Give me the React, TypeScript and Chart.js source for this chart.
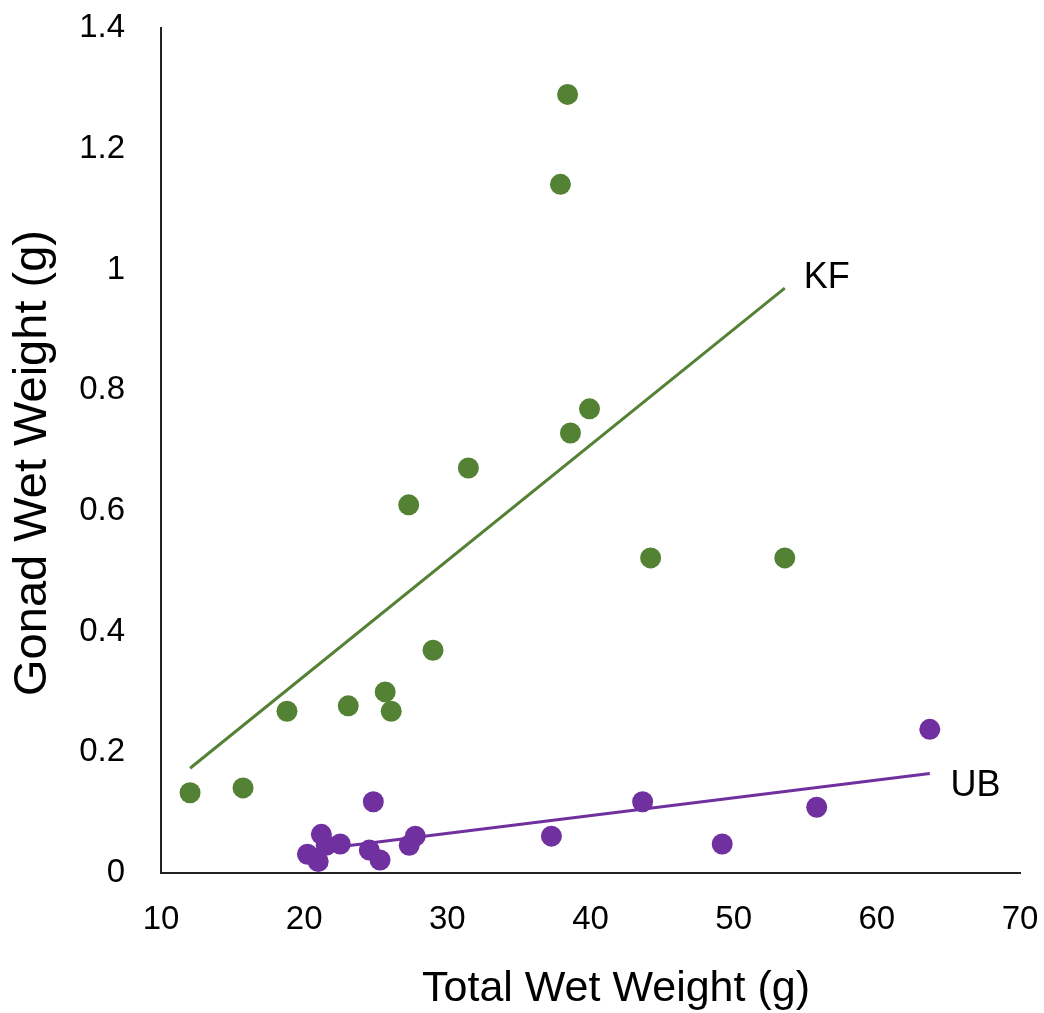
import React, { useEffect, useRef } from "react";
import { Chart, registerables } from "chart.js";

Chart.register(...registerables);

// KF (green) observations
const kfX = [12.03, 15.73, 18.8, 23.08, 25.66, 26.08, 27.3, 29.0, 31.47, 37.9, 38.4, 38.6, 39.93, 44.2, 53.57];
const kfY = [0.133, 0.141, 0.268, 0.277, 0.3, 0.268, 0.61, 0.369, 0.671, 1.141, 1.29, 0.729, 0.769, 0.522, 0.522];

// UB (purple) observations
const ubX = [24.83, 21.2, 20.23, 20.98, 21.54, 22.52, 24.55, 25.3, 27.76, 27.34, 37.27, 43.64, 49.2, 55.8, 63.7];
const ubY = [0.118, 0.064, 0.031, 0.019, 0.046, 0.048, 0.038, 0.0215, 0.061, 0.046, 0.061, 0.118, 0.048, 0.109, 0.238];

// Linear trendlines (end points)
const kfTrendX = [12.03, 53.57];
const kfTrendY = [0.1735, 0.969];
const ubTrendX = [20.23, 63.7];
const ubTrendY = [0.037, 0.165];

// Series labels, placed in data coordinates
const seriesLabels = ["KF", "UB"];
const labelX = [56.5, 66.9];
const labelY = [0.986, 0.144];

// Axis ticks
const xTicks = [10, 20, 30, 40, 50, 60, 70];
const yTicks = [0, 0.2, 0.4, 0.6, 0.8, 1, 1.2, 1.4];

const xTitle = "Total Wet Weight (g)";
const yTitle = "Gonad Wet Weight (g)";

const GREEN = "#548235";
const PURPLE = "#7030A0";
const FONT = "'Liberation Sans', Arial, sans-serif";

const zip = (xs: number[], ys: number[]) => xs.map((x, i) => ({ x, y: ys[i] }));

const annotationPlugin = {
  id: "textAnnotations",
  afterDraw(chart: any) {
    const { ctx, scales } = chart;
    ctx.save();
    ctx.fillStyle = "#000";
    ctx.textAlign = "center";
    ctx.textBaseline = "middle";
    ctx.font = `36px ${FONT}`;
    seriesLabels.forEach((t, i) => {
      ctx.fillText(t, scales.x.getPixelForValue(labelX[i]), scales.y.getPixelForValue(labelY[i]));
    });
    ctx.font = `43px ${FONT}`;
    ctx.fillText(xTitle, 616, 989);
    ctx.translate(33, 463);
    ctx.rotate(-Math.PI / 2);
    ctx.font = `47px ${FONT}`;
    ctx.fillText(yTitle, 0, 0);
    ctx.restore();
  },
};

const zeroPad = (s: any) => {
  s.paddingTop = 0;
  s.paddingBottom = 0;
  s.paddingLeft = 0;
  s.paddingRight = 0;
};

export default function App() {
  const ref = useRef<HTMLCanvasElement | null>(null);
  useEffect(() => {
    if (!ref.current) return;
    const chart = new Chart(ref.current, {
      type: "scatter",
      data: {
        datasets: [
          {
            label: "KF",
            data: zip(kfX, kfY),
            backgroundColor: GREEN,
            borderColor: GREEN,
            pointRadius: 10.5,
            pointBorderWidth: 0,
            pointHoverRadius: 10.5,
          },
          {
            label: "UB",
            data: zip(ubX, ubY),
            backgroundColor: PURPLE,
            borderColor: PURPLE,
            pointRadius: 10.5,
            pointBorderWidth: 0,
            pointHoverRadius: 10.5,
          },
          {
            label: "KF trend",
            data: zip(kfTrendX, kfTrendY),
            showLine: true,
            borderColor: GREEN,
            borderWidth: 3,
            pointRadius: 0,
            fill: false,
          },
          {
            label: "UB trend",
            data: zip(ubTrendX, ubTrendY),
            showLine: true,
            borderColor: PURPLE,
            borderWidth: 3,
            pointRadius: 0,
            fill: false,
          },
        ],
      },
      options: {
        animation: false,
        responsive: false,
        devicePixelRatio: 1,
        layout: { autoPadding: false, padding: { top: 28, right: 24, left: 0, bottom: 0 } },
        plugins: { legend: { display: false }, tooltip: { enabled: false } },
        scales: {
          x: {
            type: "linear",
            min: xTicks[0],
            max: xTicks[xTicks.length - 1],
            afterBuildTicks: (s: any) => {
              s.ticks = xTicks.map((v) => ({ value: v }));
            },
            afterFit: (s: any) => {
              s.height = 140;
              zeroPad(s);
            },
            grid: { display: false, drawTicks: false },
            border: { display: true, color: "#222", width: 2 },
            ticks: {
              padding: 27,
              color: "#000",
              font: { family: FONT, size: 33 },
              callback: (v: any) => String(Math.round(Number(v) * 10) / 10),
            },
          },
          y: {
            type: "linear",
            min: yTicks[0],
            max: yTicks[yTicks.length - 1],
            afterBuildTicks: (s: any) => {
              s.ticks = yTicks.map((v) => ({ value: v }));
            },
            afterFit: (s: any) => {
              s.width = 161;
              zeroPad(s);
            },
            grid: { display: false, drawTicks: false },
            border: { display: true, color: "#222", width: 2 },
            ticks: {
              padding: 36,
              color: "#000",
              font: { family: FONT, size: 33 },
              callback: (v: any) => String(Math.round(Number(v) * 10) / 10),
            },
          },
        },
      },
      plugins: [annotationPlugin],
    });
    return () => chart.destroy();
  }, []);
  return (
    <div style={{ position: "absolute", left: 0, top: 0, width: 1044, height: 1013, background: "#fff" }}>
      <canvas ref={ref} width={1044} height={1013} style={{ width: 1044, height: 1013 }} />
    </div>
  );
}
